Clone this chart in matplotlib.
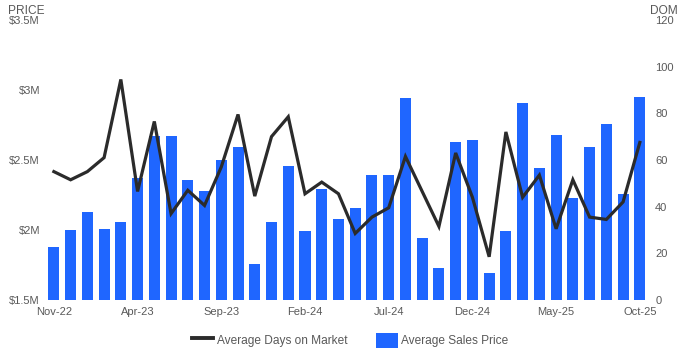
import matplotlib
matplotlib.use("Agg")
import matplotlib.pyplot as plt
from matplotlib.patches import Patch
from matplotlib.lines import Line2D

plt.rcParams["font.family"] = ["Liberation Sans", "DejaVu Sans"]

# Monthly figures, Nov-22 through Oct-25
avg_price_m = [1.88, 2.00, 2.13, 2.01, 2.06, 2.37, 2.67, 2.67, 2.36, 2.28,
               2.50, 2.59, 1.76, 2.06, 2.46, 1.99, 2.29, 2.08, 2.16, 2.39,
               2.39, 2.94, 1.94, 1.73, 2.63, 2.64, 1.69, 1.99, 2.91, 2.44,
               2.68, 2.23, 2.59, 2.76, 2.26, 2.95]
avg_dom = [55, 51.5, 55, 61, 94.5, 46.5, 76.5, 37, 47, 40.5,
           57, 79.5, 44.5, 70, 78.5, 45.5, 50.5, 45.5, 28.5, 35.5,
           39.5, 61.5, 46.5, 31.5, 63, 44, 18.5, 72, 44, 53.5,
           30.5, 51.5, 35.5, 34.5, 42, 67.5]
tick_labels = ["Nov-22", "Apr-23", "Sep-23", "Feb-24", "Jul-24", "Dec-24", "May-25", "Oct-25"]
price_ticks = [1.5, 2.0, 2.5, 3.0, 3.5]
price_tick_labels = ["$1.5M", "$2M", "$2.5M", "$3M", "$3.5M"]
dom_ticks = [0, 20, 40, 60, 80, 100, 120]

bar_color = "#1f66ff"
line_color = "#2b2b2b"
text_color = "#595959"

fig = plt.figure(figsize=(7, 3.5), dpi=100)
ax = fig.add_axes([0.065, 0.143, 0.861, 0.8])
ax2 = ax.twinx()

x = list(range(len(avg_price_m)))
ax.bar(x, [p - 1.5 for p in avg_price_m], bottom=1.5, width=0.66, color=bar_color, zorder=2)
ax2.plot(x, avg_dom, color=line_color, linewidth=2.3, solid_joinstyle="miter", zorder=3)

ax.set_xlim(-0.5, len(x) - 0.5)
ax.set_ylim(1.5, 3.5)
ax2.set_ylim(0, 120)

ax.set_xticks(list(range(0, len(x), 5)))
ax.set_xticklabels(tick_labels)
ax.set_yticks(price_ticks)
ax.set_yticklabels(price_tick_labels)
ax2.set_yticks(dom_ticks)

for a in (ax, ax2):
    for s in a.spines.values():
        s.set_visible(False)
    a.tick_params(length=0, labelsize=8, labelcolor=text_color)
ax.tick_params(axis="x", pad=5)
ax.tick_params(axis="y", pad=4)
ax2.tick_params(axis="y", pad=5)

fig.text(0.012, 0.985, "PRICE", ha="left", va="top", fontsize=8.6, color=text_color)
fig.text(0.968, 0.985, "DOM", ha="right", va="top", fontsize=8.6, color=text_color)

handles = [Line2D([0], [0], color=line_color, linewidth=2.8),
           Patch(facecolor=bar_color)]
fig.legend(handles, ["Average Days on Market", "Average Sales Price"],
           loc="center", bbox_to_anchor=(0.5, 0.028), ncol=2, frameon=False,
           fontsize=8.6, labelcolor=text_color, handlelength=1.8, handleheight=1.6,
           handletextpad=0.3, columnspacing=2.4)

fig.savefig("out.png", dpi=100)
